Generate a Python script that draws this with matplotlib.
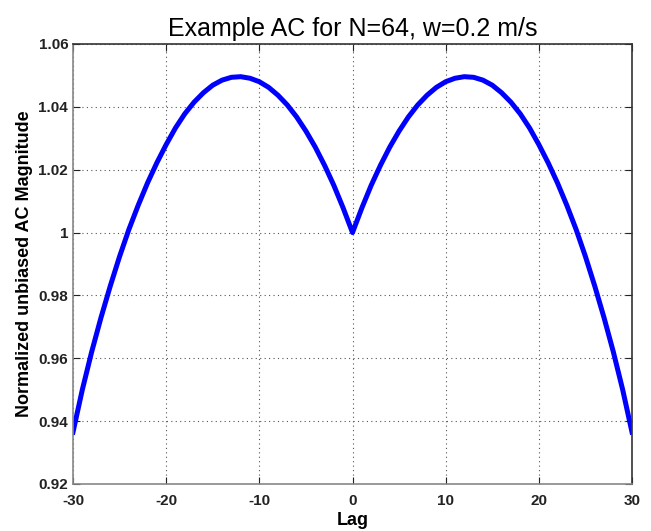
import matplotlib
matplotlib.use("Agg")
import matplotlib.pyplot as plt

lags = list(range(-30, 31))
half_values = [1.0000, 1.0078, 1.0150, 1.0214, 1.0272, 1.0323, 1.0368, 1.0406,
               1.0437, 1.0462, 1.0480, 1.0491, 1.0496, 1.0494, 1.0485, 1.0469,
               1.0445, 1.0415, 1.0378, 1.0333, 1.0280, 1.0222, 1.0158, 1.0087,
               1.0010, 0.9924, 0.9830, 0.9729, 0.9620, 0.9500, 0.9365]
ac_values = half_values[:0:-1] + half_values

xticks = [-30, -20, -10, 0, 10, 20, 30]
yticks = [0.92, 0.94, 0.96, 0.98, 1.0, 1.02, 1.04, 1.06]
ytick_labels = ["0.92", "0.94", "0.96", "0.98", "1", "1.02", "1.04", "1.06"]

plt.rcParams['font.family'] = ['Liberation Sans', 'DejaVu Sans']

fig = plt.figure(figsize=(6.51, 5.31), dpi=100)
ax = fig.add_axes([73/651, 1-484/531, (632-73)/651, (484-44)/531])

ax.plot(lags, ac_values, color='#0000ff', linewidth=3.6, solid_joinstyle='round')

ax.set_xlim(-30, 30)
ax.set_ylim(0.92, 1.06)
ax.set_xticks(xticks)
ax.set_xticklabels([str(t) for t in xticks], fontsize=11, fontweight='bold')
ax.set_yticks(yticks)
ax.set_yticklabels(ytick_labels, fontsize=11, fontweight='bold')
ax.tick_params(direction='in', length=5, width=0.8, top=True, right=True, pad=3.5,
               colors='#222222')
ax.tick_params(axis='x', pad=7)

ax.grid(True, linestyle=(0, (1, 3)), color='#555555', linewidth=0.8)

for side in ['left', 'bottom']:
    ax.spines[side].set_color('#888888')
    ax.spines[side].set_linewidth(1.2)
for side in ['top', 'right']:
    ax.spines[side].set_color('#333333')
    ax.spines[side].set_linewidth(1.2)

ax.set_xlabel('Lag', fontsize=13, fontweight='bold', labelpad=3)
ax.set_ylabel('Normalized unbiased AC Magnitude', fontsize=13, fontweight='bold', labelpad=4)
ax.set_title('Example AC for N=64, w=0.2 m/s', fontsize=18, pad=6)

fig.savefig('out.png', dpi=100)
